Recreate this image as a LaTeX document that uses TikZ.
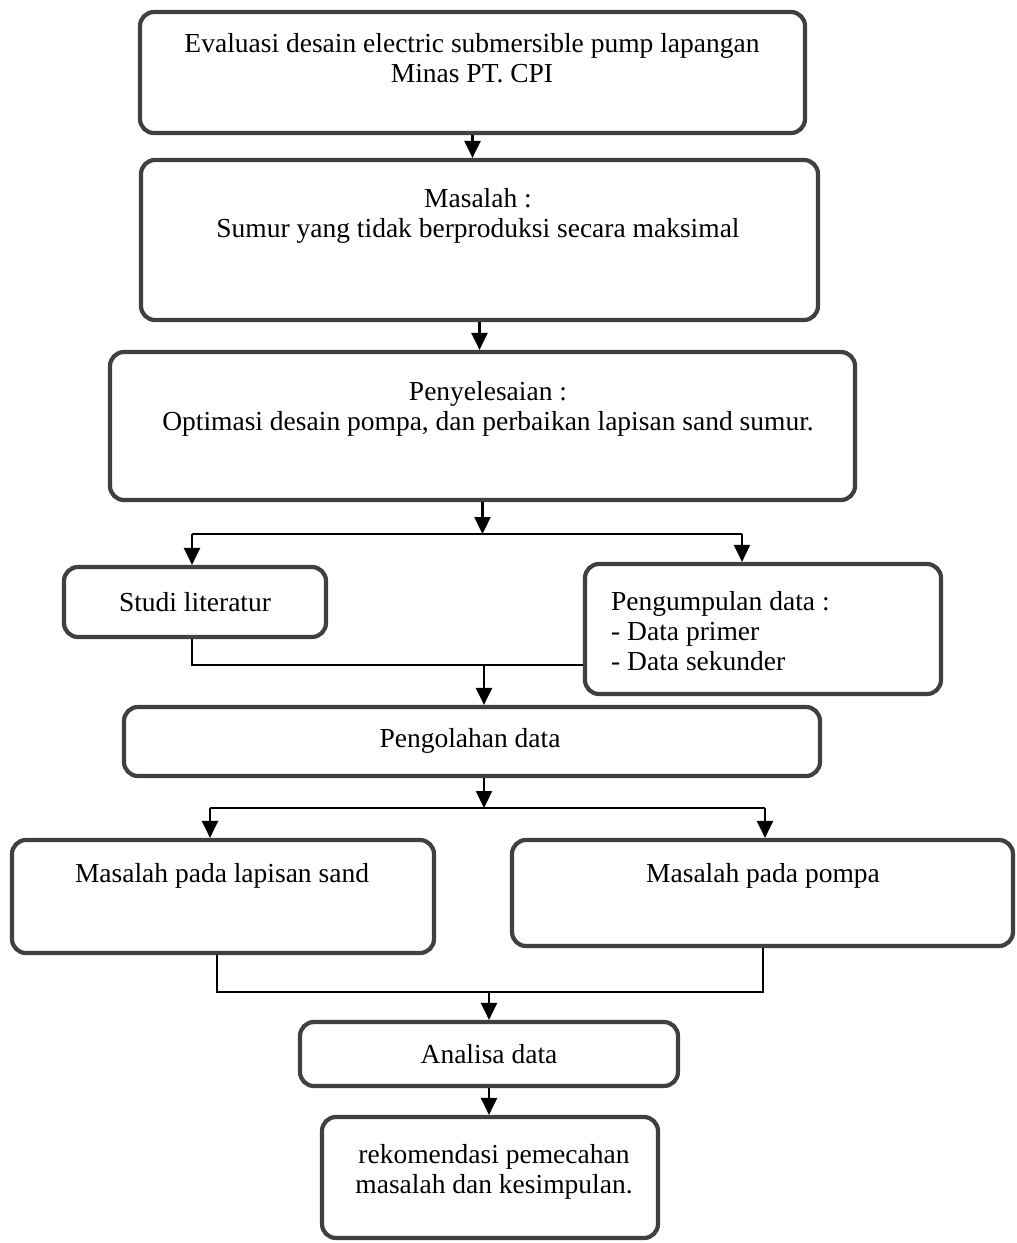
\documentclass[tikz,border=0pt]{standalone}
\usepackage{fontspec}
\setmainfont{Liberation Serif}
\usetikzlibrary{arrows.meta,calc}
\definecolor{boxgray}{rgb}{0.25,0.25,0.25}
\begin{document}
\begin{tikzpicture}[x=1pt,y=-1pt,
  box/.style={draw=boxgray, line width=4.2pt, rounded corners=14pt, fill=white, inner sep=0pt},
  txt/.style={font=\fontsize{27.5}{30}\selectfont, align=center, inner sep=0pt},
  arr/.style={line width=2.3pt, -{Triangle[width=16pt,length=17pt]}},
  ln/.style={line width=2.3pt}]
\useasboundingbox[fill=white] (0,0) rectangle (1017,1243);

% boxes
\node[box, minimum width=665pt, minimum height=121pt] (b1) at (472.5,72.5) {};
\node[box, minimum width=677pt, minimum height=160pt] (b2) at (479.5,240) {};
\node[box, minimum width=745pt, minimum height=148pt] (b3) at (482.5,426) {};
\node[box, minimum width=262pt, minimum height=70pt] (studi) at (195,602) {};
\node[box, minimum width=356pt, minimum height=130pt] (peng) at (763,629) {};
\node[box, minimum width=696pt, minimum height=69pt] (proc) at (472,741.5) {};
\node[box, minimum width=422pt, minimum height=113pt] (sand) at (223,896.5) {};
\node[box, minimum width=501pt, minimum height=106pt] (pompa) at (762.5,893) {};
\node[box, minimum width=378pt, minimum height=64pt] (ana) at (489,1054) {};
\node[box, minimum width=336pt, minimum height=121pt] (rek) at (490,1177.5) {};

% texts
\node[txt] (t1) at (472,58) {Evaluasi desain electric submersible pump lapangan\\Minas PT. CPI};
\node[txt] (t2) at (478,216) {Masalah :\\Sumur yang tidak berproduksi secara maksimal};
\node[txt] (t3) at (488,409) {Penyelesaian :\\Optimasi desain pompa, dan perbaikan lapisan sand sumur.};
\node[txt] (t4) at (195,602) {Studi literatur};
\node[txt, align=left, anchor=west] (t5) at (611,631) {Pengumpulan data :\\- Data primer\\- Data sekunder};
\node[txt] (t6) at (470,741) {Pengolahan data};
\node[txt] (t7) at (222,876) {Masalah pada lapisan sand};
\node[txt] (t8) at (763,876) {Masalah pada pompa};
\node[txt] (t9) at (489,1054) {Analisa data};
\node[txt] (t10) at (494,1172) {rekomendasi pemecahan\\masalah dan kesimpulan.};

% junction coordinates
\coordinate (j1) at (482.5,534);
\coordinate (jL) at (192,534);
\coordinate (jR) at (742,534);
\coordinate (m1) at (192,665);
\coordinate (m2) at (484,665);
\coordinate (j2) at (484,808);
\coordinate (jL2) at (210,808);
\coordinate (jR2) at (765,808);
\coordinate (k1) at (217,992);
\coordinate (k2) at (763,992);
\coordinate (k3) at (489,992);

% connectors
\draw[arr] (b1.south) -- (b1.south |- b2.north);
\draw[arr] (b2.south) -- (b2.south |- b3.north);
\draw[arr] (b3.south -| j1) -- (j1);
\draw[ln] (jL) -- (jR);
\draw[arr] (jL) -- (jL |- studi.north);
\draw[arr] (jR) -- (jR |- peng.north);
\draw[ln] (studi.south -| m1) -- (m1) -- (m1 -| peng.west);
\draw[arr] (m2) -- (m2 |- proc.north);
\draw[arr] (proc.south -| j2) -- (j2);
\draw[ln] (jL2) -- (jR2);
\draw[arr] (jL2) -- (jL2 |- sand.north);
\draw[arr] (jR2) -- (jR2 |- pompa.north);
\draw[ln] (sand.south -| k1) -- (k1) -- (k2) -- (pompa.south -| k2);
\draw[arr] (k3) -- (k3 |- ana.north);
\draw[arr] (ana.south) -- (ana.south |- rek.north);
\end{tikzpicture}
\end{document}
